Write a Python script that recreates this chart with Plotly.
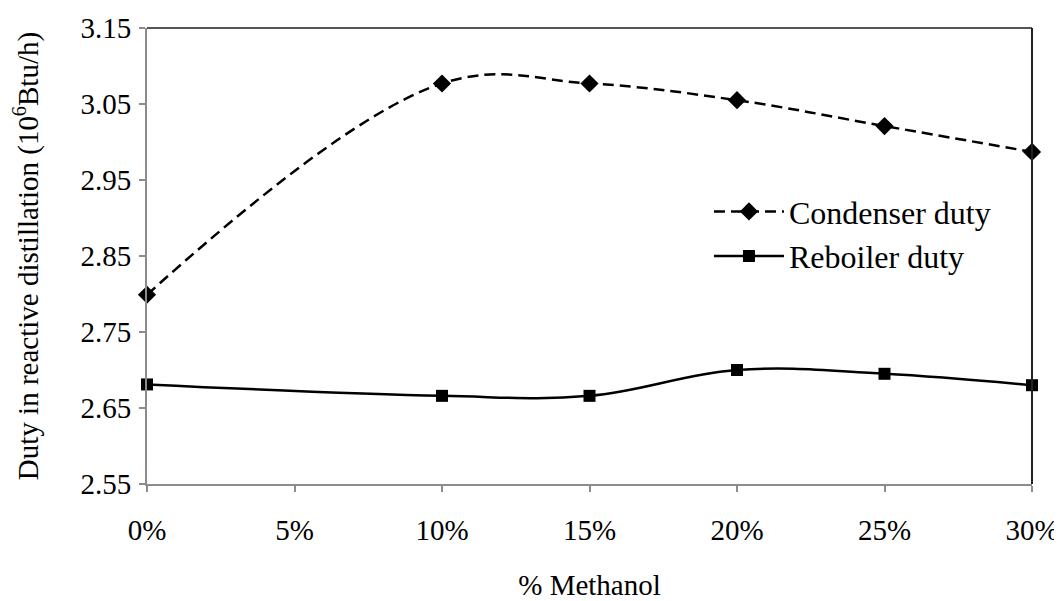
import plotly.graph_objects as go

methanol_pct = [0, 10, 15, 20, 25, 30]
condenser_duty = [2.799, 3.077, 3.077, 3.055, 3.021, 2.987]
reboiler_duty = [2.681, 2.666, 2.666, 2.700, 2.695, 2.680]
x_ticks = [0, 5, 10, 15, 20, 25, 30]
x_tick_text = ["0%", "5%", "10%", "15%", "20%", "25%", "30%"]
y_ticks = [2.55, 2.65, 2.75, 2.85, 2.95, 3.05, 3.15]
y_tick_text = ["2.55", "2.65", "2.75", "2.85", "2.95", "3.05", "3.15"]

FONT = "Liberation Serif, Times New Roman, serif"
AXIS_GRAY = "#8c8c8c"

fig = go.Figure()
fig.add_trace(go.Scatter(
    x=methanol_pct, y=condenser_duty, name="Condenser duty", legendgroup="c",
    mode="lines+markers",
    line=dict(color="black", width=2.5, dash="11px,6px", shape="spline", smoothing=1.1),
    marker=dict(symbol="diamond", size=14, color="black"), cliponaxis=False,
))
fig.add_trace(go.Scatter(
    x=methanol_pct, y=reboiler_duty, name="Reboiler duty", legendgroup="r",
    mode="lines+markers",
    line=dict(color="black", width=2.5, shape="spline", smoothing=1.1),
    marker=dict(symbol="square", size=12, color="black"), cliponaxis=False,
))

fig.update_layout(
    width=1054, height=593,
    margin=dict(l=139, r=30, t=20, b=117, autoexpand=False),
    paper_bgcolor="white", plot_bgcolor="white",
    font=dict(family=FONT, size=29, color="black"),
    showlegend=True,
    legend=dict(x=0.635, y=0.548, xanchor="left", yanchor="middle", itemwidth=70,
                bgcolor="rgba(0,0,0,0)", tracegroupgap=0,
                font=dict(family=FONT, size=32, color="black")),
    xaxis=dict(
        range=[0, 30], tickmode="array", tickvals=x_ticks, ticktext=x_tick_text,
        showgrid=False, zeroline=False,
        showline=True, linecolor=AXIS_GRAY, linewidth=2,
        ticks="outside", ticklen=6, tickcolor=AXIS_GRAY, tickwidth=1.5,
        ticklabelstandoff=13,
        tickfont=dict(family=FONT, size=29, color="black"),
        title=dict(text="% Methanol", font=dict(family=FONT, size=29, color="black"), standoff=34),
    ),
    yaxis=dict(
        range=[2.55, 3.15], tickmode="array", tickvals=y_ticks, ticktext=y_tick_text,
        showgrid=False, zeroline=False,
        showline=True, linecolor=AXIS_GRAY, linewidth=2,
        ticks="outside", ticklen=6, tickcolor=AXIS_GRAY, tickwidth=1.5,
        ticklabelstandoff=2,
        tickfont=dict(family=FONT, size=29, color="black"),
        title=dict(text="Duty in reactive distillation (10<sup>6</sup>Btu/h)",
                   font=dict(family=FONT, size=29, color="black"), standoff=40),
    ),
    shapes=[
        dict(type="line", xref="paper", yref="paper", x0=0, x1=1, y0=1, y1=1,
             line=dict(color="#555555", width=2)),
        dict(type="line", xref="paper", yref="paper", x0=1, x1=1, y0=0, y1=1,
             line=dict(color="#222222", width=2)),
    ],
)

fig.write_html("out.html")
